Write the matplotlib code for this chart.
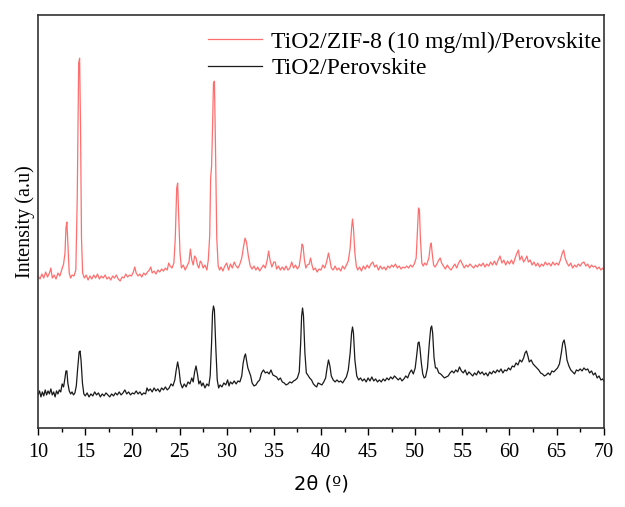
import numpy as np
import matplotlib.pyplot as plt
from matplotlib.ticker import MultipleLocator

# red pattern: TiO2/ZIF-8 (10 mg/ml)/Perovskite (already offset upwards)
red_2t = [10.0, 10.2, 10.4, 10.6, 10.8, 11.0, 11.2, 11.35, 11.5, 11.7, 11.9, 12.1, 12.3, 12.5, 12.7, 12.85,
          12.95, 13.05, 13.15, 13.3, 13.45, 13.6, 13.8, 14.0, 14.15, 14.3, 14.4, 14.5, 14.6, 14.72, 14.9,
          15.1, 15.3, 15.5, 15.7, 15.9, 16.1, 16.3, 16.5, 16.7, 16.9, 17.1, 17.3, 17.5, 17.7, 17.9, 18.1,
          18.3, 18.5, 18.7, 18.9, 19.1, 19.3, 19.5, 19.7, 19.9, 20.1, 20.25, 20.4, 20.6, 20.8, 21.0, 21.2,
          21.4, 21.6, 21.8, 21.95, 22.1, 22.3, 22.5, 22.7, 22.9, 23.1, 23.3, 23.5, 23.7, 23.85, 24.0, 24.2,
          24.4, 24.55, 24.7, 24.8, 24.9, 25.05, 25.2, 25.4, 25.6, 25.8, 26.0, 26.15, 26.3, 26.45, 26.6,
          26.75, 26.9, 27.05, 27.2, 27.35, 27.5, 27.7, 27.9, 28.05, 28.2, 28.3, 28.4, 28.5, 28.6, 28.7,
          28.8, 28.95, 29.1, 29.25, 29.4, 29.6, 29.8, 30.0, 30.2, 30.4, 30.6, 30.8, 31.0, 31.2, 31.4, 31.6,
          31.8, 31.95, 32.1, 32.3, 32.5, 32.7, 32.9, 33.1, 33.3, 33.5, 33.7, 33.9, 34.1, 34.3, 34.45, 34.6,
          34.8, 35.0, 35.15, 35.3, 35.5, 35.7, 35.9, 36.1, 36.3, 36.5, 36.7, 36.9, 37.1, 37.3, 37.5, 37.7,
          37.85, 38.0, 38.1, 38.25, 38.4, 38.55, 38.75, 38.9, 39.05, 39.2, 39.4, 39.6, 39.8, 40.0, 40.2,
          40.4, 40.6, 40.8, 40.95, 41.1, 41.3, 41.5, 41.7, 41.9, 42.1, 42.3, 42.5, 42.7, 42.9, 43.1, 43.25,
          43.35, 43.45, 43.6, 43.75, 43.9, 44.1, 44.3, 44.5, 44.7, 44.9, 45.1, 45.3, 45.5, 45.7, 45.9,
          46.1, 46.3, 46.5, 46.7, 46.9, 47.1, 47.3, 47.5, 47.7, 47.9, 48.1, 48.3, 48.5, 48.7, 48.9, 49.1,
          49.3, 49.5, 49.7, 49.9, 50.1, 50.25, 50.35, 50.45, 50.55, 50.7, 50.85, 51.0, 51.2, 51.45, 51.6,
          51.7, 51.8, 51.95, 52.1, 52.3, 52.5, 52.65, 52.8, 53.0, 53.2, 53.4, 53.6, 53.8, 54.0, 54.2,
          54.4, 54.6, 54.8, 55.0, 55.2, 55.4, 55.6, 55.8, 56.0, 56.2, 56.4, 56.6, 56.8, 57.0, 57.2, 57.4,
          57.6, 57.8, 58.0, 58.2, 58.4, 58.6, 58.8, 59.0, 59.2, 59.4, 59.6, 59.8, 60.0, 60.2, 60.4, 60.6,
          60.8, 60.95, 61.1, 61.3, 61.5, 61.7, 61.85, 62.0, 62.2, 62.4, 62.6, 62.8, 63.0, 63.2, 63.4,
          63.6, 63.8, 64.0, 64.2, 64.4, 64.6, 64.8, 65.0, 65.2, 65.4, 65.6, 65.75, 65.9, 66.1, 66.3, 66.5,
          66.7, 66.9, 67.1, 67.3, 67.5, 67.7, 67.9, 68.1, 68.3, 68.5, 68.7, 68.9, 69.1, 69.3, 69.5, 69.7,
          69.9, 70.0]
red_int = [152, 149, 154, 150, 156, 151, 155, 160, 150, 153, 149, 155, 152, 158, 164, 175,
           200, 206, 185, 155, 150, 153, 152, 158, 230, 365, 370, 300, 190, 155, 150,
           153, 148, 152, 149, 153, 150, 154, 149, 152, 150, 153, 149, 151, 148, 152, 150,
           153, 149, 147, 151, 150, 154, 151, 153, 152, 156, 161, 155, 152, 154, 151, 155,
           153, 156, 158, 161, 155, 157, 154, 158, 156, 159, 157, 160, 158, 165, 162, 160,
           165, 190, 240, 245, 215, 175, 160, 163, 158, 162, 166, 179, 168, 163, 172,
           170, 163, 160, 167, 165, 160, 163, 158, 168, 192, 250, 262, 300, 345, 347,
           290, 190, 162, 158, 161, 157, 162, 165, 158, 164, 160, 166, 162, 160, 164, 170,
           182, 190, 186, 172, 162, 159, 162, 158, 161, 157, 160, 163, 160, 168, 177, 168,
           161, 166, 166, 159, 162, 158, 161, 158, 162, 158, 160, 166, 160, 163, 159, 162,
           172, 184, 182, 168, 160, 163, 164, 170, 163, 158, 160, 156, 159, 158, 163,
           160, 166, 175, 168, 160, 158, 162, 158, 160, 157, 162, 159, 163, 167, 180, 200,
           209, 200, 175, 162, 158, 161, 157, 162, 159, 163, 160, 164, 166, 161, 163,
           158, 162, 159, 161, 158, 162, 160, 163, 161, 164, 160, 162, 159, 161, 160, 162,
           160, 163, 161, 164, 170, 200, 220, 218, 190, 165, 162, 165, 163, 170, 182,
           185, 175, 163, 161, 164, 168, 170, 165, 162, 159, 163, 160, 158, 161, 164,
           160, 165, 168, 164, 160, 163, 161, 164, 162, 160, 163, 161, 164, 162, 165, 161,
           164, 162, 166, 163, 167, 163, 168, 172, 165, 168, 163, 167, 164, 168, 164, 170,
           175, 178, 168, 172, 166, 169, 172, 166, 168, 163, 166, 162, 165, 161, 164,
           162, 166, 163, 165, 162, 166, 163, 165, 163, 168, 175, 178, 170, 165, 162, 165,
           160, 163, 161, 164, 162, 165, 166, 162, 164, 160, 163, 161, 162, 159, 161, 158,
           160, 159]

# black pattern: TiO2/Perovskite
blk_2t = [10.0, 10.15, 10.3, 10.45, 10.6, 10.75, 10.9, 11.05, 11.2, 11.35, 11.5, 11.65, 11.8, 11.95,
          12.1, 12.25, 12.4, 12.55, 12.7, 12.85, 12.95, 13.05, 13.15, 13.3, 13.45, 13.6, 13.75, 13.9,
          14.05, 14.2, 14.35, 14.45, 14.55, 14.7, 14.85, 15.0, 15.2, 15.4, 15.6, 15.8, 16.0, 16.2, 16.4,
          16.6, 16.8, 17.0, 17.2, 17.4, 17.6, 17.8, 18.0, 18.2, 18.4, 18.6, 18.8, 19.0, 19.2, 19.4, 19.6,
          19.8, 20.0, 20.2, 20.4, 20.6, 20.8, 21.0, 21.2, 21.4, 21.55, 21.7, 21.9, 22.1, 22.3, 22.5, 22.7,
          22.9, 23.1, 23.3, 23.5, 23.7, 23.9, 24.1, 24.3, 24.5, 24.65, 24.8, 24.95, 25.1, 25.3, 25.5,
          25.7, 25.9, 26.1, 26.3, 26.45, 26.6, 26.75, 26.9, 27.05, 27.2, 27.35, 27.5, 27.7, 27.9, 28.1,
          28.25, 28.4, 28.5, 28.6, 28.7, 28.85, 29.0, 29.15, 29.3, 29.5, 29.7, 29.9, 30.1, 30.25, 30.4,
          30.6, 30.8, 31.0, 31.2, 31.4, 31.6, 31.75, 31.9, 32.0, 32.1, 32.25, 32.4, 32.55, 32.7, 32.9,
          33.1, 33.3, 33.5, 33.7, 33.9, 34.1, 34.3, 34.5, 34.7, 34.9, 35.1, 35.3, 35.5, 35.7, 35.9, 36.1,
          36.3, 36.5, 36.7, 36.9, 37.1, 37.3, 37.5, 37.7, 37.85, 37.95, 38.05, 38.15, 38.3, 38.45, 38.6,
          38.8, 39.0, 39.2, 39.4, 39.55, 39.7, 39.9, 40.1, 40.3, 40.5, 40.65, 40.8, 40.95, 41.1, 41.3,
          41.5, 41.7, 41.9, 42.1, 42.3, 42.5, 42.7, 42.9, 43.1, 43.25, 43.35, 43.45, 43.6, 43.8, 44.0,
          44.2, 44.4, 44.6, 44.8, 45.0, 45.2, 45.4, 45.6, 45.8, 46.0, 46.2, 46.4, 46.6, 46.8, 47.0, 47.2,
          47.4, 47.6, 47.8, 48.0, 48.2, 48.4, 48.6, 48.8, 49.0, 49.2, 49.4, 49.6, 49.8, 50.0, 50.15,
          50.3, 50.4, 50.5, 50.65, 50.8, 50.95, 51.1, 51.3, 51.5, 51.65, 51.75, 51.85, 52.0, 52.15, 52.3,
          52.5, 52.7, 52.9, 53.1, 53.3, 53.5, 53.7, 53.9, 54.1, 54.3, 54.5, 54.7, 54.9, 55.1, 55.3, 55.5,
          55.7, 55.9, 56.1, 56.3, 56.5, 56.7, 56.9, 57.1, 57.3, 57.5, 57.7, 57.9, 58.1, 58.3, 58.5, 58.7,
          58.9, 59.1, 59.3, 59.5, 59.7, 59.9, 60.1, 60.3, 60.5, 60.7, 60.9, 61.1, 61.3, 61.5, 61.65,
          61.8, 61.95, 62.1, 62.3, 62.5, 62.7, 62.9, 63.1, 63.3, 63.5, 63.7, 63.9, 64.1, 64.3, 64.5, 64.7,
          64.9, 65.1, 65.3, 65.5, 65.65, 65.8, 65.95, 66.1, 66.3, 66.5, 66.7, 66.9, 67.1, 67.3, 67.5,
          67.7, 67.9, 68.1, 68.3, 68.5, 68.7, 68.9, 69.1, 69.3, 69.5, 69.7, 69.9, 70.0]
blk_int = [33, 37, 31, 36, 32, 38, 33, 37, 34, 39, 33, 36, 31, 37,
           34, 38, 36, 44, 41, 50, 57, 57, 45, 37, 34, 36, 33, 35,
           42, 60, 76, 77, 68, 45, 34, 32, 35, 31, 34, 32, 36, 33, 35,
           31, 34, 32, 35, 33, 31, 34, 32, 35, 33, 36, 33, 35, 38, 34, 36,
           33, 35, 34, 37, 34, 36, 33, 35, 34, 40, 37, 39, 36, 40, 37, 39,
           36, 40, 38, 41, 38, 40, 44, 42, 48, 58, 66, 58, 45, 40, 44,
           41, 46, 44, 50, 46, 56, 62, 54, 44, 47, 42, 45, 40, 44, 42,
           52, 85, 115, 122, 118, 80, 48, 40, 43, 41, 45, 43, 48, 42, 46,
           44, 47, 44, 47, 46, 52, 65, 72, 74, 68, 60, 56, 52, 45, 42,
           43, 46, 48, 55, 58, 55, 56, 54, 58, 53, 52, 51, 48, 50, 46, 45,
           43, 44, 46, 45, 47, 48, 50, 56, 85, 112, 120, 112, 75, 55, 53,
           50, 48, 44, 42, 41, 45, 44, 43, 46, 50, 60, 68, 62, 52, 48,
           46, 48, 46, 47, 45, 48, 51, 58, 75, 95, 101, 95, 68, 52, 48,
           50, 47, 49, 46, 50, 47, 51, 47, 49, 46, 48, 46, 49, 47, 50, 48,
           51, 49, 52, 50, 48, 50, 47, 49, 52, 50, 55, 58, 54, 60, 72,
           85, 86, 80, 65, 54, 50, 51, 60, 85, 100, 102, 95, 70, 60, 60,
           55, 54, 52, 50, 51, 52, 55, 57, 55, 58, 56, 61, 57, 55, 58, 53,
           56, 54, 52, 55, 53, 57, 54, 56, 53, 55, 52, 56, 54, 57, 55, 58,
           56, 59, 55, 58, 57, 60, 58, 62, 61, 65, 63, 68, 66, 70, 75,
           77, 72, 66, 68, 64, 62, 60, 58, 55, 54, 52, 53, 55, 53, 57, 56,
           58, 60, 64, 75, 85, 88, 80, 68, 62, 58, 56, 54, 58, 57, 59,
           57, 60, 58, 59, 55, 57, 53, 55, 50, 52, 48, 49, 47]

fig = plt.figure(figsize=(6.25, 5.07), dpi=100)
ax = fig.add_axes([0.061, 0.156, 0.905, 0.814])

ax.plot(red_2t, red_int, color='#ff4a4a', lw=0.9, alpha=0.8,
        label='TiO2/ZIF-8 (10 mg/ml)/Perovskite')
ax.plot(blk_2t, blk_int, color='#1a1a1a', lw=0.9,
        label='TiO2/Perovskite')

ax.set_xlim(10, 70)
ax.set_ylim(0, 413)
ax.xaxis.set_major_locator(MultipleLocator(5))
ax.xaxis.set_minor_locator(MultipleLocator(2.5))
ax.tick_params(axis='x', which='major', direction='out', length=5, width=1, labelsize=14.5, pad=6)
ax.tick_params(axis='x', which='minor', direction='out', length=3, width=1)
ax.set_yticks([])
for lab in ax.get_xticklabels():
    lab.set_fontfamily('Liberation Serif')
for s in ax.spines.values():
    s.set_linewidth(1.2)
    s.set_color('#333333')

ax.set_xlabel('2θ (º)', fontsize=14, family='DejaVu Sans', labelpad=9)
ax.set_ylabel('Intensity (a.u)', fontsize=14.5, family='Liberation Serif', labelpad=2)

ax.legend(loc='upper right', frameon=False, prop={'family': 'Liberation Serif', 'size': 17},
          handlelength=2.3, handletextpad=0.4, labelspacing=0.2,
          borderaxespad=0.1, bbox_to_anchor=(1.017, 0.99))

fig.savefig('out.png', dpi=100)
